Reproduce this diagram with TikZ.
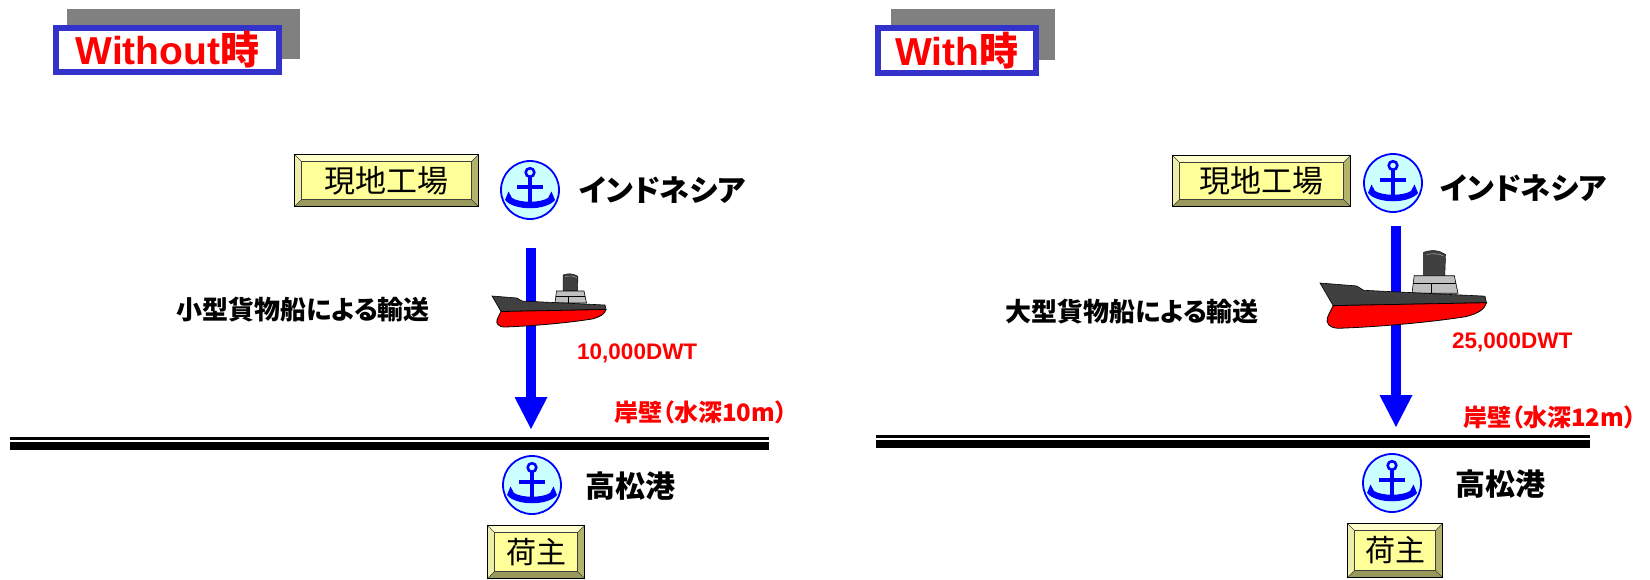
\documentclass[tikz,border=0pt]{standalone}
\usepackage{fontspec}
\usepackage{graphicx}
\setmainfont{Liberation Sans}
\newfontfamily\jp{Noto Sans CJK JP}
\newfontfamily\jpp[RawFeature=+palt]{Noto Sans CJK JP}
\usetikzlibrary{arrows.meta}

\definecolor{frameblue}{HTML}{3333CC}
\definecolor{shadowgray}{HTML}{808080}
\definecolor{facey}{HTML}{FFFF99}
\definecolor{bevtop}{HTML}{FFFFCC}
\definecolor{bevleft}{HTML}{EEEEAA}
\definecolor{bevright}{HTML}{B3B36B}
\definecolor{bevbot}{HTML}{99995C}
\definecolor{anchorfill}{HTML}{CCFFFF}
\definecolor{anchorblue}{HTML}{0000FF}
\definecolor{hullgray}{HTML}{404040}
\definecolor{supergray}{HTML}{C0C0C0}
\definecolor{labelred}{HTML}{FF0000}

\tikzset{
  x=1pt, y=-1pt,
  shadowbox/.style={fill=shadowgray, inner sep=0pt},
  titlebox/.style={draw=frameblue, line width=6pt, fill=white, inner sep=0pt,
    text=labelred, font=\fontsize{39}{41}\selectfont\bfseries},
  bevelbox/.style={draw=black, line width=1.2pt, fill=facey, inner sep=0pt,
    font=\jp\fontsize{31}{33}\selectfont,
    path picture={
      \fill[bevtop] (path picture bounding box.north west) -- (path picture bounding box.north east)
        -- ([shift={(-7pt,-7pt)}]path picture bounding box.north east)
        -- ([shift={(7pt,-7pt)}]path picture bounding box.north west) -- cycle;
      \fill[bevleft] (path picture bounding box.north west) -- (path picture bounding box.south west)
        -- ([shift={(7pt,7pt)}]path picture bounding box.south west)
        -- ([shift={(7pt,-7pt)}]path picture bounding box.north west) -- cycle;
      \fill[bevright] (path picture bounding box.north east) -- (path picture bounding box.south east)
        -- ([shift={(-7pt,7pt)}]path picture bounding box.south east)
        -- ([shift={(-7pt,-7pt)}]path picture bounding box.north east) -- cycle;
      \fill[bevbot] (path picture bounding box.south west) -- (path picture bounding box.south east)
        -- ([shift={(-7pt,7pt)}]path picture bounding box.south east)
        -- ([shift={(7pt,7pt)}]path picture bounding box.south west) -- cycle;
      \draw[line width=0.6pt, black!75]
        ([shift={(7pt,-7pt)}]path picture bounding box.north west) rectangle
        ([shift={(-7pt,7pt)}]path picture bounding box.south east)
        (path picture bounding box.north west) -- ([shift={(7pt,-7pt)}]path picture bounding box.north west)
        (path picture bounding box.north east) -- ([shift={(-7pt,-7pt)}]path picture bounding box.north east)
        (path picture bounding box.south west) -- ([shift={(7pt,7pt)}]path picture bounding box.south west)
        (path picture bounding box.south east) -- ([shift={(-7pt,7pt)}]path picture bounding box.south east);
    }},
  portmark/.style={circle, draw=anchorblue, line width=1.8pt, fill=anchorfill,
    minimum size=58pt, inner sep=0pt,
    path picture={
      \begin{scope}[shift={(path picture bounding box.center)}]
        \draw[anchorblue, line width=2.6pt] (0,-17.5) circle (4.3pt);
        \fill[anchorblue] (-2.2,-13) rectangle (2.2,15);
        \fill[anchorblue] (-13,-5.5) rectangle (13,-1);
        \fill[anchorblue] (-18,8) -- (-21.5,1.5) -- (-25,10)
          .. controls (-16,21) and (16,21) .. (25,10) -- (21.5,1.5) -- (18,8)
          .. controls (10,13) and (-10,13) .. (-18,8) -- cycle;
      \end{scope}
    }},
  blacklabel/.style={anchor=west, inner sep=0pt, font=\jpp\bfseries\fontsize{30}{32}\selectfont},
  routelabel/.style={anchor=west, inner sep=0pt, font=\jpp\bfseries\fontsize{26}{28}\selectfont},
  dwtlabel/.style={anchor=west, inner sep=0pt, text=labelred, font=\bfseries\fontsize{22.5}{25}\selectfont},
  quaylabel/.style={anchor=west, inner sep=0pt, text=labelred, font=\jpp\bfseries\fontsize{24}{26}\selectfont},
  route/.style={draw=anchorblue, line width=10pt,
    -{Triangle[width=33pt, length=32pt, line width=0pt]}},
  quaythin/.style={draw=black, line width=3pt},
  quaythick/.style={draw=black, line width=8pt},
  ship/.pic={
    % funnel
    \filldraw[fill=hullgray, draw=black, line width=0.4pt]
      (71,-5) -- (71,-21) .. controls (76,-23) and (82,-22.5) .. (86,-19.5) -- (85.5,-5) -- cycle;
    \draw[white!80!black, line width=0.3pt] (73,-19.5) .. controls (78,-20.5) and (82,-20) .. (84.5,-18.5);
    % bridge
    \filldraw[fill=supergray, draw=black, line width=0.6pt]
      (64.5,-5) -- (92,-5) -- (94.5,7) -- (63,7) -- cycle;
    \draw[line width=0.6pt] (63.8,0.5) -- (93.3,0.5) (76.5,0.5) -- (76.5,7);
    % upper hull
    \filldraw[fill=hullgray, draw=black, line width=0.6pt]
      (0,0) -- (25,2) -- (30,5) -- (113,9) -- (114,13.5) -- (9,15.5) -- cycle;
    % lower hull
    \filldraw[fill=red, draw=black, line width=0.8pt]
      (9,15.5) -- (114,13.5) .. controls (113,18) and (108,21) .. (100,23)
      .. controls (75,27) and (40,30) .. (13,31)
      .. controls (6,31) and (4,27) .. (5,24)
      .. controls (6,21) and (8,18) .. (9,15.5) -- cycle;
  }
}

\begin{document}
\begin{tikzpicture}
\useasboundingbox (0,0) rectangle (1650,579);

% ---------- left panel: small cargo ship ----------
\node[shadowbox, minimum width=233pt, minimum height=50pt] (shadowL) at (183.5,34) {};
\node[titlebox, minimum width=223pt, minimum height=44pt] (titleL) at (167.5,50) {Without{\jp\bfseries 時}};

\node[bevelbox, minimum width=184pt, minimum height=52pt] (factoryL) at (386.5,180.5) {現地工場};
\node[portmark] (srcL) at (530,190) {};
\node[blacklabel] (srcLabelL) at (579,190) {インドネシア};

\coordinate (routeL0) at (531,248);
\coordinate (routeL1) at (531,429);
\draw[route] (routeL0) -- (routeL1);
\pic at (492,296) {ship};
\node[routelabel] (modeL) at (176,310) {小型貨物船による輸送};
\node[dwtlabel] (dwtL) at (577,353.5) {10,000DWT};

\node[quaylabel] (quayLabelL) at (614,412) {岸壁（水深10m）};
\coordinate (quayL0) at (10,438);
\coordinate (quayL1) at (769,438);
\coordinate (quayL2) at (10,446);
\coordinate (quayL3) at (769,446);
\draw[quaythin] (quayL0) -- (quayL1);
\draw[quaythick] (quayL2) -- (quayL3);

\node[portmark] (dstL) at (532,485) {};
\node[blacklabel] (dstLabelL) at (585,486) {高松港};
\node[bevelbox, minimum width=97pt, minimum height=53pt, font=\jp\fontsize{30}{32}\selectfont] (ownerL) at (536,552) {荷主};

% ---------- right panel: large cargo ship ----------
\node[shadowbox, minimum width=164pt, minimum height=51pt] (shadowR) at (973,34.5) {};
\node[titlebox, minimum width=158pt, minimum height=45pt] (titleR) at (957,50.5) {With{\jp\bfseries 時}};

\node[bevelbox, minimum width=178pt, minimum height=51pt] (factoryR) at (1261.5,181) {現地工場};
\node[portmark] (srcR) at (1393,183) {};
\node[blacklabel] (srcLabelR) at (1440,188) {インドネシア};

\coordinate (routeR0) at (1396,226);
\coordinate (routeR1) at (1396,427);
\draw[route] (routeR0) -- (routeR1);
\pic[scale=1.46] at (1320,283) {ship};
\node[routelabel] (modeR) at (1005,312) {大型貨物船による輸送};
\node[dwtlabel] (dwtR) at (1452,342) {25,000DWT};

\node[quaylabel] (quayLabelR) at (1463,417) {岸壁（水深12m）};
\coordinate (quayR0) at (876,436);
\coordinate (quayR1) at (1590,436);
\coordinate (quayR2) at (876,444);
\coordinate (quayR3) at (1590,444);
\draw[quaythin] (quayR0) -- (quayR1);
\draw[quaythick] (quayR2) -- (quayR3);

\node[portmark] (dstR) at (1392,483) {};
\node[blacklabel] (dstLabelR) at (1455,484) {高松港};
\node[bevelbox, minimum width=95pt, minimum height=54pt, font=\jp\fontsize{30}{32}\selectfont] (ownerR) at (1395,550.5) {荷主};
\end{tikzpicture}
\end{document}
